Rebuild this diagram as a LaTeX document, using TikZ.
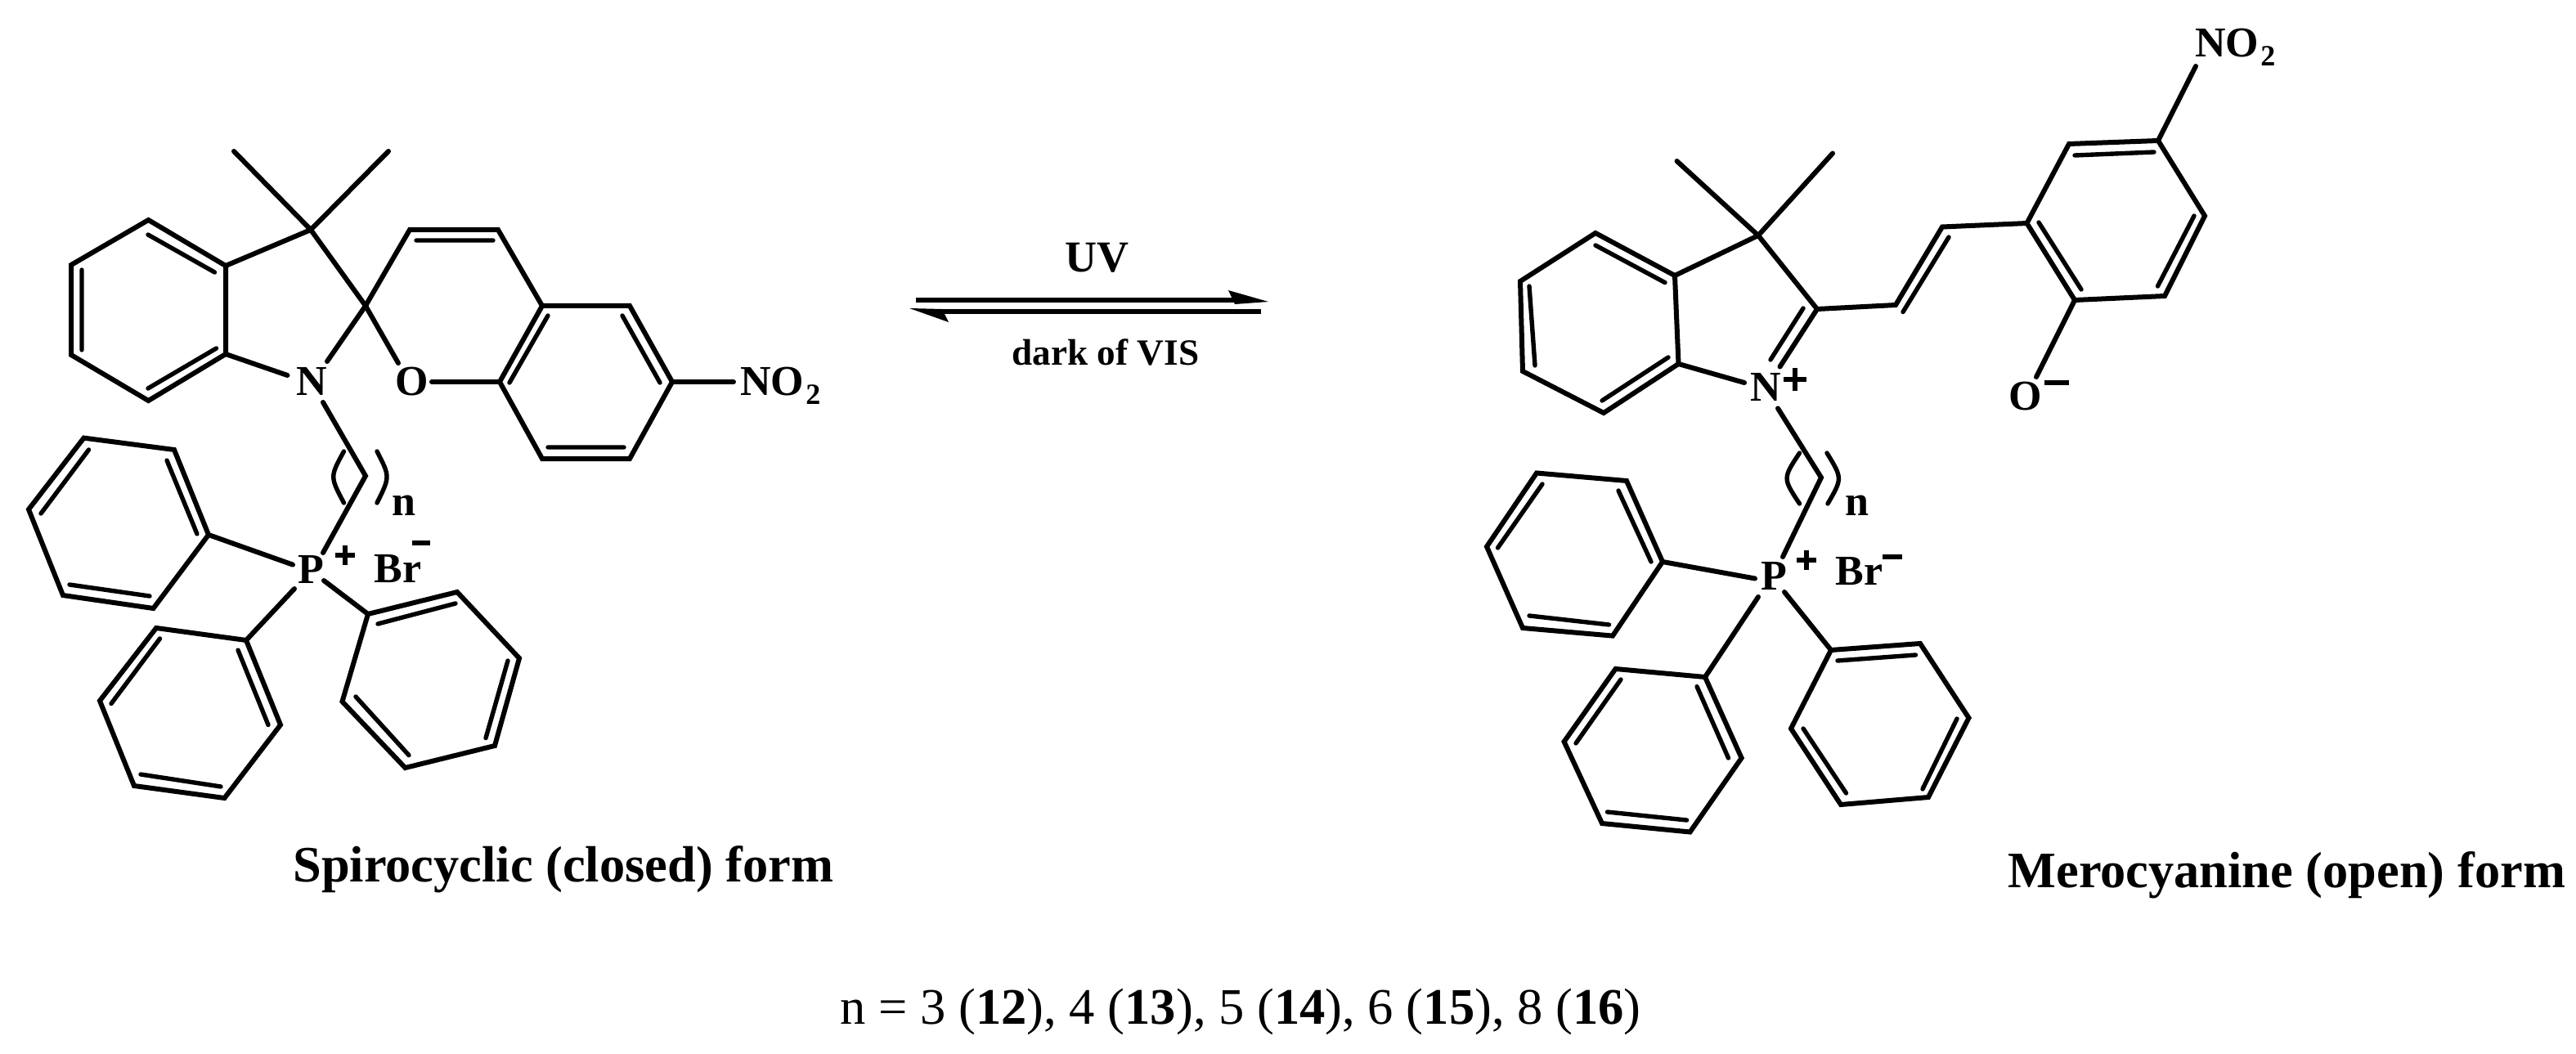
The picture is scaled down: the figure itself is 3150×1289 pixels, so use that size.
\documentclass[tikz,border=0pt]{standalone}
\usepackage{fontspec}
\setmainfont{Liberation Serif}
\newcommand{\fsz}[1]{\fontsize{#1}{#1}\selectfont}
\tikzset{
  bond/.style={line width=3pt,line cap=round,line join=miter,draw=black},
  inner/.style={line width=2.7pt,line cap=round,draw=black},
  atomlabel/.style={anchor=base west,inner sep=0pt,font=\fsz{26}\bfseries},
  sublabel/.style={anchor=base west,inner sep=0pt,font=\fsz{18}\bfseries},
  caption/.style={anchor=base west,inner sep=0pt,font=\fsz{31.2}\bfseries},
  chg/.style={line width=2.8pt,draw=black},
  eqline/.style={line width=2.7pt,draw=black},
}
\begin{document}
\begin{tikzpicture}[x=0.5pt,y=-0.5pt]
\useasboundingbox[fill=white] (0,0) rectangle (3150,1289);
% ===== LEFT MOLECULE =====
\draw[bond] (181.5,269)--(276,325)--(276,433)--(181.5,490)--(87,434)--(87,324)--cycle;
\draw[bond] (276,325)--(380,281);
\draw[bond] (286,185)--(380,281)--(475,185);
\draw[bond] (380,281)--(447,374)--(400,442);
\draw[bond] (276,433)--(351.5,459);
\draw[bond] (447,374)--(487,444);
\draw[bond] (447,374)--(501,281)--(609,281)--(663,374)--(770,374)--(822,467)--(770,561)--(663,561)--(611,467)--(663,374);
\draw[bond] (528,467)--(611,467);
\draw[bond] (822,467)--(897,467);
\draw[inner] (181,287)--(262.5,333) (100,330)--(100,428) (181,475)--(264.5,426);
\draw[inner] (509,294)--(603,294) (670,386)--(623,468) (761,386)--(807,468) (670,547)--(763,547);
\node[atomlabel] (n1) at (362,483) {N};
\node[atomlabel] (o1) at (483,483) {O};
\node[atomlabel] (no1) at (905,483) {NO};
\node[sublabel] (no1s) at (985,494) {2};
\draw[bond] (395,492)--(447,582)--(395,676);
\draw[inner] (420.5,552) .. controls (403.5,583) .. (420.5,615);
\draw[inner] (461,552) .. controls (477,583) .. (461,615);
\node[atomlabel] (sub1) at (479,630) {n};
\node[atomlabel] (p1) at (364,713) {P};
\node[atomlabel] (br1) at (457,712) {Br};
\draw[chg] (410,679)--(434,679) (422,667)--(422,691);
\draw[chg] (503.6,664)--(526,664);
% phenyl 1
\draw[bond] (102.5,535.6)--(213,550)--(255,654)--(187.5,744)--(77,728)--(35,623)--cycle;
\draw[inner] (204,563)--(241,653) (108.5,550)--(50,628) (85,715)--(183,729);
\draw[bond] (255,654)--(358,690.6);
% phenyl 2
\draw[bond] (360,720)--(301,783);
\draw[bond] (301,783)--(191,768)--(122,857)--(164,961)--(274.5,976)--(343,886.5)--cycle;
\draw[inner] (195.5,781)--(136,860.5) (291,795)--(328,886.5) (172,947)--(270,962);
% phenyl 3
\draw[bond] (396,710)--(450,751);
\draw[bond] (450,751)--(559,724)--(635,805)--(605,912)--(495.5,939)--(418.5,858)--cycle;
\draw[inner] (462,763)--(557,738) (621,808)--(594,902.6) (435,852)--(500,923.6);
\node[caption] (cap1) at (358,1078) {Spirocyclic (closed) form};
% ===== ARROWS =====
\draw[eqline] (1120,367)--(1515,367);
\fill (1502,355)--(1551,369)--(1510,372)--cycle;
\draw[eqline] (1542,381)--(1150,381);
\fill (1112,377)--(1160,394)--(1152,378)--cycle;
\node[anchor=base,inner sep=0pt,font=\fsz{27}\bfseries] (uv) at (1341,333) {UV};
\node[anchor=base,inner sep=0pt,font=\fsz{22.6}\bfseries] (dark) at (1352,446) {dark of VIS};
% ===== RIGHT MOLECULE =====
\draw[bond] (1951,285)--(2048,337)--(2052.5,445)--(1961,505)--(1862,454)--(1859,344)--cycle;
\draw[bond] (2048,337)--(2150,288)--(2222,378)--(2176.5,448.5);
\draw[bond] (2050.5,197)--(2150,288)--(2241,187.5);
\draw[bond] (2052.5,445)--(2133,468);
\draw[inner] (1951,300)--(2036,345.6) (1870,350)--(1877,447) (1959,490)--(2040,437) (2205,377)--(2165,440);
\draw[bond] (2222,378)--(2318,373)--(2375,277.5)--(2478.5,273);
\draw[inner] (2383,290)--(2327,381.5);
\draw[bond] (2478.5,273)--(2530,176)--(2639,172)--(2696,264)--(2647,362)--(2537,367)--cycle;
\draw[inner] (2493,272)--(2545,354) (2537,190)--(2634,186) (2683,264)--(2638.5,350);
\draw[bond] (2639,172)--(2685,81);
\node[atomlabel] (no2) at (2684,70) {NO};
\node[sublabel] (no2s) at (2764,81) {2};
\draw[bond] (2537,367)--(2490,461);
\node[atomlabel] (o2) at (2456,501) {O};
\draw[chg] (2500,468)--(2530,468);
\node[atomlabel] (n2) at (2140,490) {N};
\draw[chg] (2181,464)--(2209,464) (2195,450)--(2195,478);
\draw[bond] (2174,499.4)--(2227,584)--(2180,681);
\draw[inner] (2200.5,554) .. controls (2180,585) .. (2200.5,616);
\draw[inner] (2234,554) .. controls (2253,585) .. (2235,616);
\node[atomlabel] (sub2) at (2256,630) {n};
\node[atomlabel] (p2) at (2153,721) {P};
\node[atomlabel] (br2) at (2244,715) {Br};
\draw[chg] (2197,685)--(2221,685) (2209,673)--(2209,697);
\draw[chg] (2302,681)--(2326,681);
% phenyl 1
\draw[bond] (1879,578.5)--(1989,588)--(2033,687)--(1972,777.6)--(1862,768)--(1818,668.5)--cycle;
\draw[inner] (1979,600)--(2019,687) (1886,592)--(1831.5,670) (1870,753)--(1967.5,764);
\draw[bond] (2033,687)--(2146,707.5);
% phenyl 2
\draw[bond] (2150,730)--(2085,828);
\draw[bond] (2085,828)--(1975.5,818)--(1912.6,907)--(1959,1007)--(2066.6,1017.5)--(2129.6,927)--cycle;
\draw[inner] (1982,831)--(1927,909) (2075,839.6)--(2113.5,927) (1965.5,993)--(2062.6,1003);
% phenyl 3
\draw[bond] (2182,724)--(2239,795);
\draw[bond] (2239,795)--(2348,787)--(2407.5,878)--(2358,975)--(2251,984)--(2190,891)--cycle;
\draw[inner] (2247,808)--(2342.5,801) (2393,879)--(2351,965) (2205,891)--(2257.5,970);
\node[caption] (cap2) at (2455,1085) {Merocyanine (open) form};
% ===== BOTTOM =====
\node[anchor=base west,inner sep=0pt,font=\fsz{31.3}] (series) at (1027,1252) {n = 3 (\textbf{12}), 4 (\textbf{13}), 5 (\textbf{14}), 6 (\textbf{15}), 8 (\textbf{16})};
\end{tikzpicture}
\end{document}
